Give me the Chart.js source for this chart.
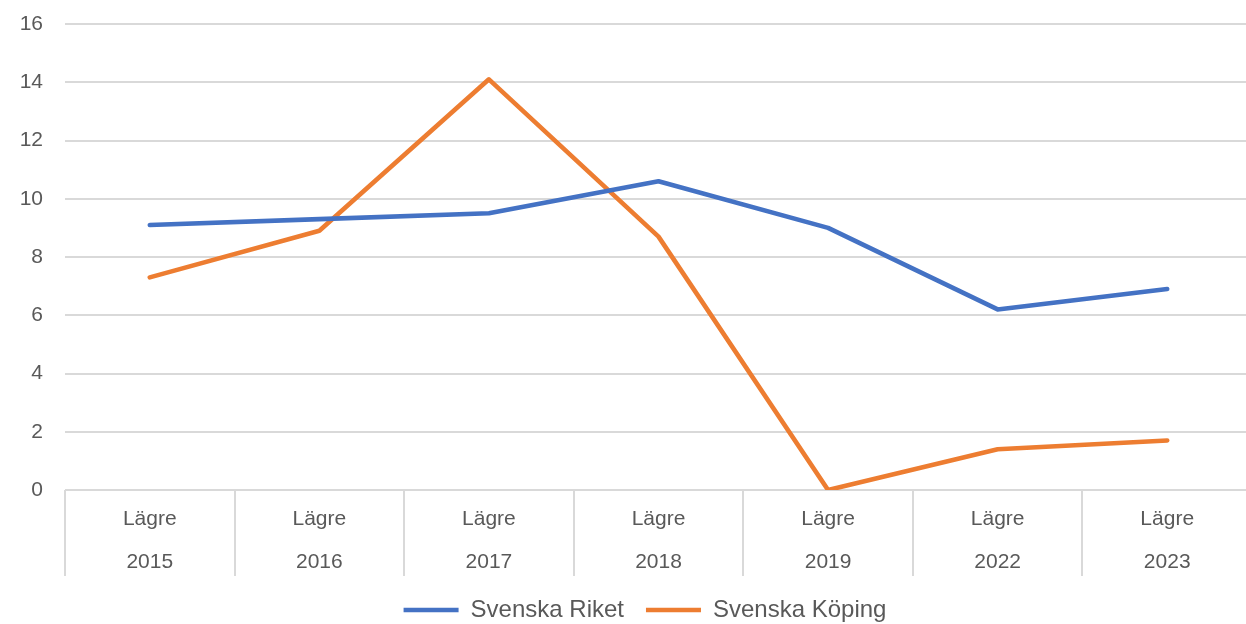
<!DOCTYPE html>
<html>
<head>
<meta charset="utf-8">
<script src="https://cdn.jsdelivr.net/npm/chart.js@4.4.1/dist/chart.umd.min.js"></script>
<style>
  html, body { margin: 0; padding: 0; background: #fff; overflow: hidden; }
  #wrap { width: 1252px; height: 632px; }
</style>
</head>
<body>
<div id="wrap"><canvas id="lineChart"></canvas></div>
<script>
// Kategorier och värden
const levels = ['Lägre', 'Lägre', 'Lägre', 'Lägre', 'Lägre', 'Lägre', 'Lägre'];
const years = ['2015', '2016', '2017', '2018', '2019', '2022', '2023'];
const riket = [9.1, 9.3, 9.5, 10.6, 9.0, 6.2, 6.9];
const koping = [7.3, 8.9, 14.1, 8.7, 0.0, 1.4, 1.7];
const yTicks = [0, 2, 4, 6, 8, 10, 12, 14, 16];

const gridColor = '#d9d9d9';
const textColor = '#595959';
const fontFamily = '"Liberation Sans", Arial, sans-serif';

function lineSet(label, data, color) {
    return {
        label: label,
        data: data,
        borderColor: color,
        backgroundColor: color,
        borderWidth: 4.6,
        borderCapStyle: 'round',
        borderJoinStyle: 'round',
        pointRadius: 0,
        pointHoverRadius: 0,
        tension: 0,
        fill: false
    };
}

// Two-row category labels (level + year) under the x axis
const groupLabels = {
    id: 'groupLabels',
    afterDraw(chart) {
        const xs = chart.scales.x;
        const c = chart.ctx;
        const top = chart.chartArea.bottom;
        c.save();
        c.fillStyle = textColor;
        c.font = '21px ' + fontFamily;
        c.textAlign = 'center';
        c.textBaseline = 'middle';
        years.forEach((y, i) => {
            const px = xs.getPixelForValue(i);
            c.fillText(levels[i], px, top + 29);
            c.fillText(y, px, top + 72);
        });
        c.restore();
    }
};

// shift legend so it sits where the original has it
const legendShift = {
    id: 'legendShift',
    afterLayout(chart) {
        chart.legend.left += 38;
    }
};

const ctx = document.getElementById('lineChart').getContext('2d');
const chart = new Chart(ctx, {
    type: 'line',
    data: {
        labels: years,
        datasets: [
            lineSet('Svenska Riket', riket, '#4472c4'),
            lineSet('Svenska Köping', koping, '#ed7d31')
        ]
    },
    options: {
        responsive: true,
        maintainAspectRatio: false,
        animation: false,
        layout: { padding: { top: 24, right: 0, bottom: 0, left: 0 } },
        plugins: {
            tooltip: { enabled: false },
            legend: {
                display: true,
                position: 'bottom',
                labels: {
                    usePointStyle: true,
                    pointStyle: 'line',
                    pointStyleWidth: 55,
                    boxWidth: 55,
                    padding: 22,
                    color: textColor,
                    font: { family: fontFamily, size: 24 }
                }
            }
        },
        scales: {
            x: {
                offset: true,
                border: { display: false },
                grid: {
                    offset: true,
                    drawOnChartArea: false,
                    drawTicks: true,
                    tickLength: 86,
                    color: gridColor,
                    lineWidth: 2
                },
                ticks: { display: false }
            },
            y: {
                min: 0,
                max: 16,
                afterFit: function(scale) {
                    scale.width = 65;
                    scale.paddingTop = 0;
                    scale.paddingBottom = 0;
                },
                afterBuildTicks: function(scale) {
                    scale.ticks = yTicks.map(v => ({ value: v }));
                },
                border: { display: false },
                grid: {
                    color: gridColor,
                    lineWidth: 2,
                    drawTicks: false
                },
                ticks: {
                    color: textColor,
                    padding: 22,
                    font: { family: fontFamily, size: 21 }
                }
            }
        }
    },
    plugins: [groupLabels, legendShift]
});
</script>
</body>
</html>
